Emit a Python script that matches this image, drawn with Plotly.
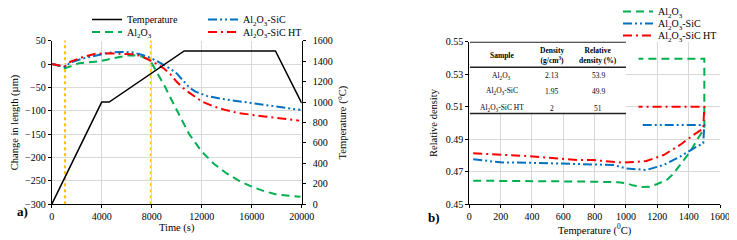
import plotly.graph_objects as go

# ---------------- panel a) data ----------------
temp_time = [0, 4000, 4600, 10600, 17900, 20000]
temp_c = [0, 1000, 1000, 1500, 1500, 990]

al2o3_time = [0, 300, 700, 1050, 1500, 2200, 3000, 3800, 4500, 5200, 6000, 6600, 7200, 7700, 8000,
              8500, 9000, 9500, 10000, 10500, 11000, 12000, 13000, 14000, 15000, 16000, 17000,
              18000, 19000, 19900]
al2o3_dl = [0, -1, -5, -9, -5, 2, 4, 6, 10, 14, 18, 19, 16, 10, 2,
            -22, -45, -72, -98, -125, -150, -187, -214, -234, -250, -262, -272,
            -279, -282, -284]

sic_time = [0, 500, 1050, 1500, 2500, 3500, 4500, 5500, 6500, 7200, 8000, 8500, 9000, 9500,
            10000, 10500, 11000, 11500, 12400, 13500, 15000, 16500, 17700, 18800, 19900]
sic_dl = [0, -3, -6, 3, 12, 18, 24, 26, 25, 20, 12, 5, -3, -10,
          -20, -36, -50, -59, -68, -74, -80, -85, -90, -94, -98]

sicht_time = [0, 500, 1050, 1500, 2500, 3500, 4500, 5500, 6500, 7200, 8000, 8500, 9000, 9500,
              10000, 10500, 11000, 12000, 13000, 14000, 15000, 16000, 17000, 18000, 19000, 19800]
sicht_dl = [0, -3, -5, 5, 15, 22, 23, 22, 21, 17, 6, -1, -10, -22,
            -38, -51, -61, -80, -91, -99, -105, -109, -112, -115, -118, -121]

marker_times = [1060, 7930]

# ---------------- panel b) data ----------------
al2o3_T = [25, 200, 400, 600, 800, 950, 1000, 1050, 1100, 1150, 1200, 1260, 1300, 1345, 1410,
           1460, 1500, 1500, 1080]
al2o3_rho = [0.4645, 0.4645, 0.4643, 0.4641, 0.4639, 0.4636, 0.4630, 0.4615, 0.4607, 0.4608,
             0.4625, 0.4650, 0.4685, 0.4742, 0.4824, 0.4906, 0.4967, 0.5395, 0.5395]

sic_T = [25, 200, 400, 580, 700, 920, 1000, 1130, 1240, 1345, 1450, 1493, 1500, 1090]
sic_rho = [0.4777, 0.4758, 0.4755, 0.4752, 0.4746, 0.4742, 0.4721, 0.4711, 0.4742, 0.4793,
           0.4854, 0.4875, 0.4988, 0.4988]

sicht_T = [25, 370, 700, 790, 980, 1130, 1240, 1345, 1430, 1493, 1500, 1080]
sicht_rho = [0.4814, 0.4797, 0.4772, 0.4772, 0.4756, 0.4766, 0.4803, 0.4865, 0.4926, 0.4967,
             0.5100, 0.5100]

# inset table
table_header = ["<b>Sample</b>", "<b>Density</b><br><b>(g/cm<sup>3</sup>)</b>",
                "<b>Relative</b><br><b>density (%)</b>"]
table_samples = ["Al<sub>2</sub>O<sub>3</sub>", "Al<sub>2</sub>O<sub>3</sub>-SiC",
                 "Al<sub>2</sub>O<sub>3</sub>-SiC HT"]
table_density = ["2.13", "1.95", "2"]
table_rel_density = ["53.9", "49.9", "51"]

# ---------------- styling / layout ----------------
PAGE_W, PAGE_H = 737, 240
OFF = 8  # default page (body) margin around the figure
W, H = PAGE_W - OFF, PAGE_H - OFF
SERIF = "Liberation Serif"
GREEN, BLUE, RED, ORANGE = "#00B050", "#0070C0", "#FF0000", "#FFC000"
GRID = "#d9d9d9"
DASH_G = "8px,5px"
DASH_B = "9px,3px,2px,3px,2px,3px"
DASH_R = "9px,4px,2px,4px"


def px_x(p):
    return (p - OFF) / W


def px_y(p):
    return 1 - (p - OFF) / H


fig = go.Figure()

# panel a
fig.add_trace(go.Scatter(x=temp_time, y=temp_c, mode="lines", name="Temperature",
                         line=dict(color="black", width=1.5), xaxis="x", yaxis="y2",
                         legend="legend"))
fig.add_trace(go.Scatter(x=al2o3_time, y=al2o3_dl, mode="lines", name="Al<sub>2</sub>O<sub>3</sub>",
                         line=dict(color=GREEN, width=2, dash=DASH_G), xaxis="x", yaxis="y",
                         legend="legend2"))
fig.add_trace(go.Scatter(x=sic_time, y=sic_dl, mode="lines", name="Al<sub>2</sub>O<sub>3</sub>-SiC",
                         line=dict(color=BLUE, width=2, dash=DASH_B), xaxis="x", yaxis="y",
                         legend="legend3"))
fig.add_trace(go.Scatter(x=sicht_time, y=sicht_dl, mode="lines",
                         name="Al<sub>2</sub>O<sub>3</sub>-SiC HT",
                         line=dict(color=RED, width=2, dash=DASH_R), xaxis="x", yaxis="y",
                         legend="legend4"))

# panel b
fig.add_trace(go.Scatter(x=al2o3_T, y=al2o3_rho, mode="lines", name="Al<sub>2</sub>O<sub>3</sub>",
                         line=dict(color=GREEN, width=2, dash=DASH_G), xaxis="x2", yaxis="y3",
                         legend="legend5"))
fig.add_trace(go.Scatter(x=sic_T, y=sic_rho, mode="lines", name="Al<sub>2</sub>O<sub>3</sub>-SiC",
                         line=dict(color=BLUE, width=2, dash=DASH_B), xaxis="x2", yaxis="y3",
                         legend="legend6"))
fig.add_trace(go.Scatter(x=sicht_T, y=sicht_rho, mode="lines",
                         name="Al<sub>2</sub>O<sub>3</sub>-SiC HT",
                         line=dict(color=RED, width=2, dash=DASH_R), xaxis="x2", yaxis="y3",
                         legend="legend7"))

shapes = []
for t in marker_times:
    shapes.append(dict(type="line", xref="x", yref="y domain", x0=t, x1=t, y0=0, y1=1,
                       line=dict(color=ORANGE, width=2, dash="dot"), layer="below"))

# inset table (data coords of panel b)
tbl_x0, tbl_x1 = 4, 1000
tbl_top, tbl_head, tbl_bot = 0.55, 0.5343, 0.5058
shapes.append(dict(type="rect", xref="x2", yref="y3", x0=tbl_x0, x1=tbl_x1, y0=tbl_bot, y1=tbl_top,
                   fillcolor="white", line=dict(width=0), layer="above"))
for yy, lw in [(tbl_top, 2), (tbl_head, 1.5), (tbl_bot, 1.5)]:
    shapes.append(dict(type="line", xref="x2", yref="y3", x0=tbl_x0, x1=tbl_x1, y0=yy, y1=yy,
                       line=dict(color="#222", width=lw), layer="above"))

col_x = [207, 526, 823]
head_y = 0.5418
row_y = [0.5291, 0.5195, 0.5092]
annotations = []
for cx, txt in zip(col_x, table_header):
    annotations.append(dict(x=cx, y=head_y, xref="x2", yref="y3", text=txt, showarrow=False,
                            font=dict(family=SERIF, size=7.5, color="black"), align="center"))
for ry, s, d, r in zip(row_y, table_samples, table_density, table_rel_density):
    for cx, txt in zip(col_x, [s, d, r]):
        annotations.append(dict(x=cx, y=ry, xref="x2", yref="y3", text=txt, showarrow=False,
                                font=dict(family=SERIF, size=7.5, color="black")))

annotations.append(dict(x=px_x(15), y=px_y(221), xref="paper", yref="paper", text="<b>a)</b>",
                        showarrow=False, font=dict(family=SERIF, size=13, color="black")))
annotations.append(dict(x=px_x(434), y=px_y(227.3), xref="paper", yref="paper", text="<b>b)</b>",
                        showarrow=False, font=dict(family=SERIF, size=13, color="black")))


def leg(xp, yp):
    return dict(x=px_x(xp), y=px_y(yp), xanchor="left", yanchor="middle",
                bgcolor="rgba(0,0,0,0)", borderwidth=0, itemwidth=30,
                font=dict(family=SERIF, size=10, color="black"))


axis_common = dict(showline=True, linecolor="black", linewidth=1, ticks="outside", ticklen=3,
                   tickcolor="black", tickfont=dict(family=SERIF, size=10, color="black"),
                   zeroline=False, mirror=False, automargin=False)

fig.update_layout(
    width=W, height=H, autosize=False,
    margin=dict(l=0, r=0, t=0, b=0, autoexpand=False),
    paper_bgcolor="white", plot_bgcolor="white",
    font=dict(family=SERIF, size=10, color="black"),
    showlegend=True,
    legend=leg(87, 19.5), legend2=leg(87, 32), legend3=leg(203, 19.5), legend4=leg(203, 32),
    legend5=leg(618, 11.5), legend6=leg(618, 23.5), legend7=leg(618, 35.5),
    xaxis=dict(domain=[px_x(51.7), px_x(301.7)], range=[0, 20000], tick0=0, dtick=4000,
               tickformat="d", showgrid=True, gridcolor=GRID, anchor="y",
               title=dict(text="Time (s)", font=dict(family=SERIF, size=10.5), standoff=1),
               **axis_common),
    yaxis=dict(domain=[px_y(204.3), px_y(40.7)], range=[-300, 50], tick0=0, dtick=50,
               showgrid=True, gridcolor=GRID, anchor="x",
               title=dict(text="Change in length (µm)", font=dict(family=SERIF, size=10.5),
                          standoff=4),
               **axis_common),
    yaxis2=dict(overlaying="y", side="right", anchor="x", range=[0, 1600], tick0=0, dtick=200,
                showgrid=False, ticklabelstandoff=5,
                title=dict(text="Temperature (°C)", font=dict(family=SERIF, size=10.5), standoff=6),
                **axis_common),
    xaxis2=dict(domain=[px_x(469.3), px_x(720)], range=[0, 1600], tick0=0, dtick=200,
                showgrid=True, gridcolor=GRID, anchor="y3",
                title=dict(text="Temperature (<sup>0</sup>C)", font=dict(family=SERIF, size=10.5),
                           standoff=1),
                **axis_common),
    yaxis3=dict(domain=[px_y(204.3), px_y(41.7)], range=[0.45, 0.55], tick0=0.45, dtick=0.02,
                tickformat=".2f", showgrid=True, gridcolor=GRID, anchor="x2",
                title=dict(text="Relative density", font=dict(family=SERIF, size=10.5), standoff=6),
                **axis_common),
    shapes=shapes,
    annotations=annotations,
)

fig.write_html("out.html")
